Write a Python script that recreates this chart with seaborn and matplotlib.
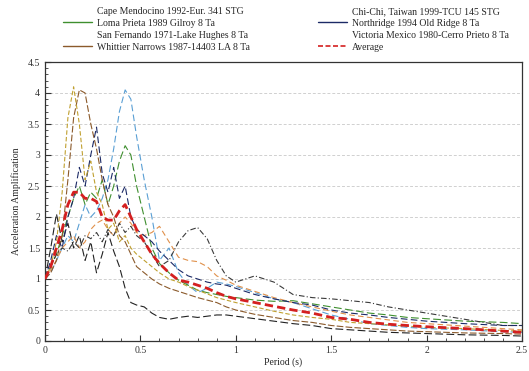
import numpy as np
import pandas as pd
import matplotlib
matplotlib.use('Agg')
import matplotlib.pyplot as plt
from matplotlib.ticker import MultipleLocator
from matplotlib.lines import Line2D
import seaborn as sns

# Period grid (s)
period = [0, 0.03, 0.06, 0.09, 0.12, 0.15, 0.18, 0.21, 0.24, 0.27, 0.30, 0.33, 0.36, 0.39,
          0.42, 0.45, 0.48, 0.52, 0.56, 0.60, 0.65, 0.70, 0.75, 0.80, 0.85, 0.90, 0.95, 1.0,
          1.1, 1.2, 1.3, 1.4, 1.5, 1.6, 1.7, 1.8, 1.9, 2.0, 2.2, 2.4, 2.5]

cape_mendocino = [1.0, 1.1, 1.3, 1.5, 1.7, 1.6, 1.9, 2.2, 2.0, 2.1, 2.3, 2.6, 3.1, 3.7,
                  4.05, 3.9, 3.3, 2.6, 2.0, 1.3, 1.5, 1.1, 0.9, 0.78, 0.85, 0.95, 0.92, 0.88,
                  0.78, 0.68, 0.62, 0.52, 0.42, 0.35, 0.28, 0.25, 0.22, 0.2, 0.18, 0.15, 0.14]
chi_chi = [1.0, 1.2, 1.4, 1.5, 1.45, 1.6, 1.5, 1.7, 1.65, 1.75, 1.6, 1.8, 1.7, 1.9,
           1.75, 1.85, 1.7, 1.6, 1.4, 1.2, 1.3, 1.6, 1.78, 1.83, 1.65, 1.3, 1.05, 0.95,
           1.05, 0.95, 0.75, 0.7, 0.68, 0.65, 0.62, 0.55, 0.5, 0.45, 0.35, 0.25, 0.25]
loma_prieta = [1.0, 1.2, 1.4, 1.7, 2.0, 2.3, 2.5, 2.2, 2.4, 2.3, 2.6, 2.2, 2.5, 2.9,
               3.15, 3.0, 2.5, 2.0, 1.5, 1.25, 1.1, 0.98, 0.9, 0.82, 0.78, 0.75, 0.72, 0.7,
               0.66, 0.64, 0.65, 0.6, 0.55, 0.5, 0.45, 0.42, 0.38, 0.36, 0.32, 0.3, 0.28]
northridge = [1.0, 1.3, 1.7, 1.5, 2.0, 2.3, 2.8, 2.5, 3.0, 3.45, 2.7, 2.4, 2.8, 2.3,
              2.5, 2.0, 1.8, 1.7, 1.6, 1.45, 1.3, 1.15, 1.05, 1.0, 0.95, 0.92, 0.9, 0.85,
              0.75, 0.68, 0.62, 0.58, 0.5, 0.45, 0.42, 0.38, 0.35, 0.32, 0.28, 0.25, 0.25]
san_fernando = [1.0, 1.15, 1.3, 1.5, 1.6, 1.7, 1.5, 1.6, 1.8, 1.9, 1.95, 1.8, 1.7, 1.9,
                2.0, 1.9, 1.75, 1.7, 1.75, 1.85, 1.6, 1.35, 1.3, 1.28, 1.2, 1.05, 0.98, 0.9,
                0.8, 0.7, 0.62, 0.55, 0.48, 0.42, 0.38, 0.34, 0.3, 0.28, 0.24, 0.2, 0.18]
victoria = [1.0, 1.2, 1.6, 2.4, 3.6, 4.1, 3.5, 2.6, 2.9, 2.4, 2.2, 1.8, 1.9, 1.6,
            1.7, 1.5, 1.4, 1.3, 1.2, 1.1, 1.0, 0.95, 0.88, 0.82, 0.76, 0.7, 0.66, 0.62,
            0.55, 0.48, 0.42, 0.38, 0.35, 0.3, 0.28, 0.26, 0.24, 0.22, 0.2, 0.17, 0.16]
whittier = [1.0, 1.1, 1.3, 1.7, 2.6, 3.6, 4.05, 4.0, 3.5, 3.1, 2.6, 2.2, 2.0, 1.7,
            1.6, 1.4, 1.2, 1.1, 1.0, 0.92, 0.85, 0.8, 0.75, 0.7, 0.66, 0.62, 0.55, 0.5,
            0.43, 0.38, 0.33, 0.3, 0.25, 0.22, 0.2, 0.18, 0.16, 0.15, 0.13, 0.12, 0.11]
extra_record = [1.0, 1.5, 2.05, 1.6, 1.9, 1.5, 1.7, 1.3, 1.6, 1.1, 1.4, 1.75, 1.45, 1.2,
                0.85, 0.62, 0.58, 0.55, 0.45, 0.38, 0.35, 0.38, 0.4, 0.38, 0.4, 0.42, 0.42, 0.4,
                0.36, 0.32, 0.28, 0.25, 0.2, 0.18, 0.16, 0.14, 0.13, 0.12, 0.1, 0.09, 0.08]
average = [1.0, 1.2, 1.5, 1.8, 2.2, 2.4, 2.4, 2.3, 2.3, 2.25, 2.0, 1.95, 1.95, 2.1,
           2.2, 2.0, 1.8, 1.6, 1.4, 1.25, 1.1, 0.98, 0.95, 0.9, 0.85, 0.78, 0.72, 0.68,
           0.62, 0.56, 0.5, 0.45, 0.38, 0.35, 0.3, 0.27, 0.25, 0.23, 0.2, 0.16, 0.14]

labels = ['Cape Mendocino 1992-Eur. 341 STG', 'Loma Prieta 1989 Gilroy 8 Ta',
          'San Fernando 1971-Lake Hughes 8 Ta', 'Whittier Narrows 1987-14403 LA 8 Ta',
          'Chi-Chi, Taiwan 1999-TCU 145 STG', 'Northridge 1994 Old Ridge 8 Ta',
          'Victoria Mexico 1980-Cerro Prieto 8 Ta', 'Average']
series = [cape_mendocino, loma_prieta, san_fernando, whittier,
          chi_chi, northridge, victoria, average]
colors = ['#5a9fd4', '#3f8f2f', '#e0904a', '#8b5a2b',
          '#3a3a3a', '#1c2a66', '#c0a030', '#d42020']
dashes = [(6, 3), (7, 3), (5, 3), (6, 2),
          (5, 2, 1, 2), (6, 3), (4, 2), (3, 1.5)]
widths = [0.8, 0.8, 0.8, 0.8, 0.8, 0.8, 0.8, 2.0]

sns.set_style('white')
plt.rcParams['font.family'] = ['Liberation Serif', 'DejaVu Serif']

fig = plt.figure(figsize=(5.29, 3.71), dpi=100)
ax = fig.add_axes([45 / 529, 1 - 341 / 371, 477 / 529, 279 / 371])

# Unlabelled extra record
sns.lineplot(x=period, y=extra_record, ax=ax, color='#222222', lw=0.8, legend=False)
ax.lines[-1].set_dashes((7, 3))

handles = []
for lab, vals, c, d, w in zip(labels, series, colors, dashes, widths):
    sns.lineplot(x=period, y=vals, ax=ax, color=c, lw=w, legend=False)
    ax.lines[-1].set_dashes(d)
    if lab == 'Average':
        ax.lines[-1].set_zorder(5)
        handles.append(Line2D([], [], color=c, lw=1.2, dashes=(3, 1.5)))
    elif c in ('#3f8f2f', '#8b5a2b', '#1c2a66'):
        handles.append(Line2D([], [], color=c, lw=1.0))
    else:
        handles.append(Line2D([], [], color=c, lw=1.0, alpha=0.0))

ax.set_xlim(0, 2.5)
ax.set_ylim(0, 4.5)
ax.xaxis.set_minor_locator(MultipleLocator(0.1))
ax.yaxis.set_minor_locator(MultipleLocator(0.1))
ax.set_xticks([0, 0.5, 1, 1.5, 2, 2.5])
ax.set_xticklabels(['0', '0.5', '1', '1.5', '2', '2.5'])
ax.set_yticks([0, 0.5, 1, 1.5, 2, 2.5, 3, 3.5, 4, 4.5])
ax.set_yticklabels(['0', '0.5', '1', '1.5', '2', '2.5', '3', '3.5', '4', '4.5'])
ax.tick_params(which='both', direction='in', labelsize=7, colors='#333333')
ax.tick_params(which='major', length=4, width=0.8, left=True, bottom=True)
ax.tick_params(which='minor', length=2, width=0.6, left=True, bottom=True)
ax.yaxis.grid(True, linestyle=(0, (3, 2)), color='#d0d0d0', lw=0.7)
ax.xaxis.grid(False)
for s in ax.spines.values():
    s.set_color('#333333')
    s.set_linewidth(0.9)

ax.set_xlabel('Period (s)', fontsize=7, labelpad=2)
ax.set_ylabel('Acceleration Amplification', fontsize=7, labelpad=5)

fig.legend(handles, labels, ncol=2, loc='upper left', bbox_to_anchor=(56 / 529, 1.0),
           frameon=False, fontsize=7, handlelength=3.0, handletextpad=0.5,
           columnspacing=7.0, labelspacing=0.3, borderaxespad=0.3)

fig.savefig('out.png', dpi=100)
